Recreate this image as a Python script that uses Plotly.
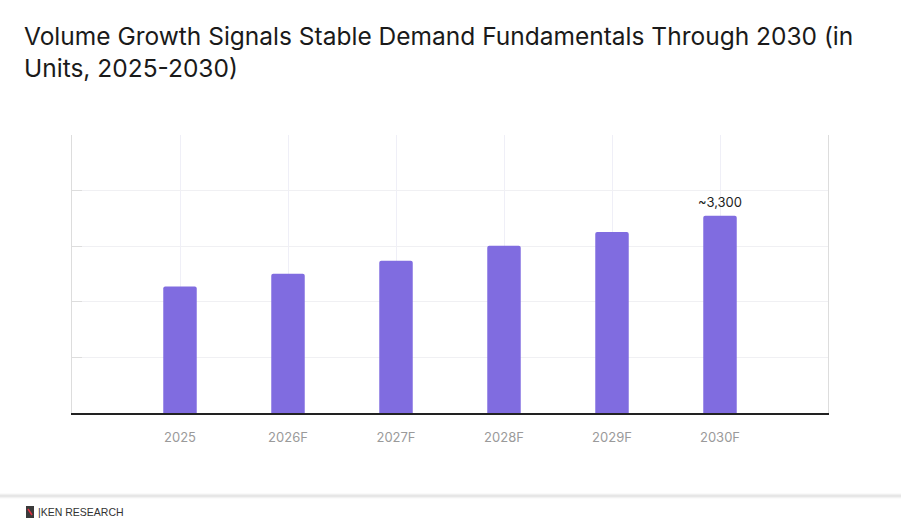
import plotly.graph_objects as go

categories = ["2025", "2026F", "2027F", "2028F", "2029F", "2030F"]
values = [2117, 2329, 2546, 2797, 3027, 3300]
label_text = "~3,300"
title_text = "Volume Growth Signals Stable Demand Fundamentals Through 2030 (in<br>Units, 2025-2030)"
y_ticks = [0, 930, 1860, 2790, 3720, 4650]

W, H = 901, 526
L, R, T, B = 72, 73, 135, 113
PH = H - T - B
PW = W - L - R

def py(y):  # pixel y -> paper
    return (H - B - y) / PH

def px(x):  # pixel x -> paper
    return (x - L) / PW

fig = go.Figure()
fig.add_trace(go.Bar(
    x=categories, y=values,
    marker=dict(color="#806ce0", cornerradius=2, line=dict(width=0)),
    width=0.31, hoverinfo="skip",
))

fig.add_annotation(x=categories[-1], y=values[-1], text=label_text,
                   showarrow=False, yanchor="bottom", yshift=4,
                   font=dict(family="Inter", size=13, color="#222222"))

# title
fig.add_annotation(xref="paper", yref="paper", x=px(22), y=py(19),
                   text=title_text, showarrow=False, xanchor="left", yanchor="top",
                   align="left",
                   font=dict(family="Inter", size=24.5, color="#1a1a1a"))

# footer shadow
for i, op in enumerate([0.04, 0.08, 0.12, 0.07, 0.03]):
    fig.add_shape(type="line", xref="paper", yref="paper",
                  x0=px(0), x1=px(W), y0=py(494 + i), y1=py(494 + i),
                  line=dict(color=f"rgba(0,0,0,{op})", width=1), layer="above")

# logo
fig.add_shape(type="rect", xref="paper", yref="paper",
              x0=px(26), x1=px(34), y0=py(518), y1=py(506),
              fillcolor="#3a3a3a", line=dict(width=0))
fig.add_shape(type="line", xref="paper", yref="paper",
              x0=px(28), x1=px(32), y0=py(509), y1=py(515),
              line=dict(color="#e03040", width=1.5))
fig.add_annotation(xref="paper", yref="paper", x=px(36), y=py(512),
                   text="|KEN RESEARCH", showarrow=False, xanchor="left", yanchor="middle",
                   font=dict(family="Liberation Sans", size=10.5, color="#333333"))

fig.update_layout(
    width=W, height=H,
    margin=dict(l=L, r=R, t=T, b=B),
    paper_bgcolor="white", plot_bgcolor="white",
    showlegend=False,
    xaxis=dict(type="category", range=[-1, 6], showgrid=True, gridcolor="#efeff7",
               showline=True, linecolor="#222222", linewidth=1.5,
               ticks="", tickfont=dict(family="Inter", size=13, color="#9a9a9a"),
               ticklabelstandoff=12, zeroline=False),
    yaxis=dict(range=[0, 4650], tickvals=y_ticks, showticklabels=False,
               showgrid=True, gridcolor="#f0f0f3", zeroline=False,
               showline=True, linecolor="#dddddd", linewidth=1, mirror=True,
               ticks="inside", ticklen=10, tickcolor="#dddddd"),
    bargap=0.69,
)

fig.write_html("out.html")
